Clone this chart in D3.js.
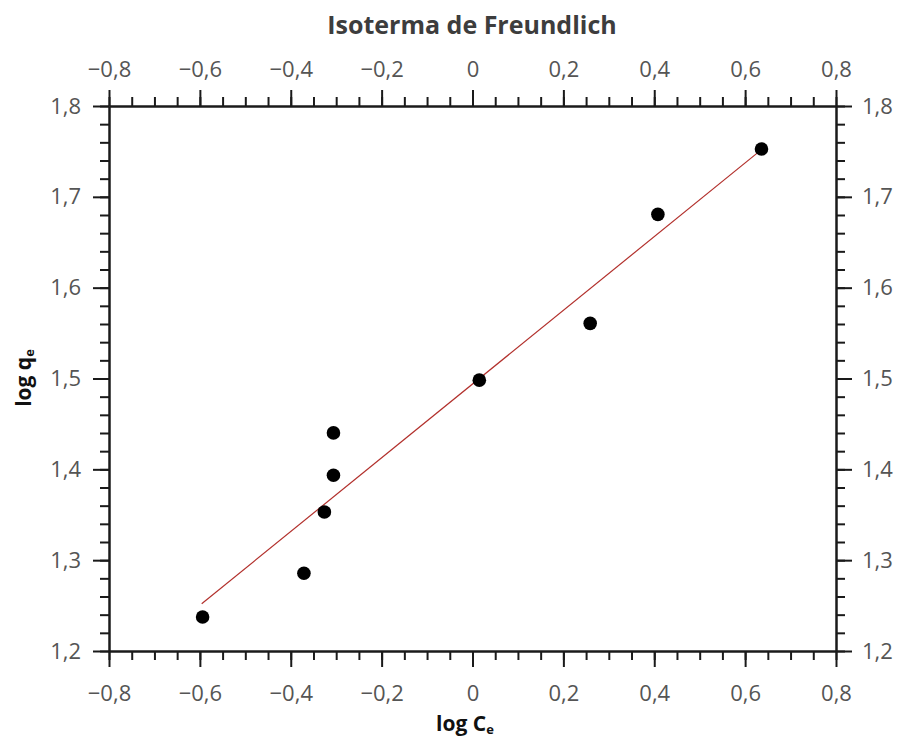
<!DOCTYPE html>
<html>
<head>
<meta charset="utf-8">
<script src="https://cdn.jsdelivr.net/npm/d3@7"></script>
<style>
  body { margin: 0; background: #fff; }
  .domain, .tick line { stroke: #1a1a1a; stroke-width: 2; }
</style>
</head>
<body>
<script>
// data
const logCe = [-0.594, -0.371, -0.326, -0.306, -0.306, 0.015, 0.259, 0.408, 0.636];
const logQe = [1.2375, 1.2856, 1.3531, 1.3935, 1.4401, 1.4982, 1.5607, 1.6807, 1.7527];
const fitX = [-0.596, 0.636];
const fitY = [1.252, 1.752];
const xTicks = [-0.8, -0.6, -0.4, -0.2, 0, 0.2, 0.4, 0.6, 0.8];
const yTicks = [1.2, 1.3, 1.4, 1.5, 1.6, 1.7, 1.8];

const width = 900;
const height = 743;
const margin = { top: 106, right: 64, bottom: 92, left: 109 };

const svg = d3.select("body")
  .append("svg")
  .attr("width", width)
  .attr("height", height);

const xScale = d3.scaleLinear()
  .domain([-0.8, 0.8])
  .range([margin.left, width - margin.right]);

const yScale = d3.scaleLinear()
  .domain([1.2, 1.8])
  .range([height - margin.bottom, margin.top]);

const loc = d3.formatLocale({ decimal: ",", thousands: ".", grouping: [3], currency: ["", ""], minus: "\u2212" });
const fmt = (d) => (Math.abs(d) < 1e-9 ? "0" : loc.format(".1f")(d));

const xMinor = d3.range(-0.8, 0.8001, 0.05).map((d) => +d.toFixed(2));
const yMinor = d3.range(1.2, 1.8001, 0.02).map((d) => +d.toFixed(2));

function addAxis(axisFn, scale, majors, minors, transform, pad) {
  svg.append("g")
    .attr("transform", transform)
    .call(axisFn(scale).tickValues(minors).tickSize(9).tickSizeOuter(0).tickFormat(""));
  svg.append("g")
    .attr("transform", transform)
    .call(axisFn(scale).tickValues(majors).tickSize(16).tickSizeOuter(0).tickPadding(pad).tickFormat(fmt))
    .attr("font-family", "'Open Sans', sans-serif")
    .attr("font-size", 22)
    .call((g) => g.selectAll(".tick text").attr("fill", "#555"));
}

const bottomY = height - margin.bottom;
const rightX = width - margin.right;

addAxis(d3.axisBottom, xScale, xTicks, xMinor, "translate(0," + bottomY + ")", 18);
addAxis(d3.axisTop, xScale, xTicks, xMinor, "translate(0," + margin.top + ")", 13);
addAxis(d3.axisLeft, yScale, yTicks, yMinor, "translate(" + margin.left + ",0)", 12);
addAxis(d3.axisRight, yScale, yTicks, yMinor, "translate(" + rightX + ",0)", 10);

// fit line
const line = d3.line()
  .x((d) => xScale(d[0]))
  .y((d) => yScale(d[1]));

svg.append("path")
  .datum(fitX.map((x, i) => [x, fitY[i]]))
  .attr("d", line)
  .attr("fill", "none")
  .attr("stroke", "#b2302c")
  .attr("stroke-width", 1.2);

// points
svg.selectAll("circle.pt")
  .data(logCe.map((x, i) => [x, logQe[i]]))
  .enter()
  .append("circle")
  .attr("class", "pt")
  .attr("cx", (d) => xScale(d[0]))
  .attr("cy", (d) => yScale(d[1]))
  .attr("r", 6.8)
  .attr("fill", "#000");

// title
svg.append("text")
  .attr("x", 472)
  .attr("y", 34)
  .attr("text-anchor", "middle")
  .attr("font-family", "'Open Sans', sans-serif")
  .attr("font-weight", "bold")
  .attr("font-size", 25)
  .attr("fill", "#3d3d3d")
  .text("Isoterma de Freundlich");

// x label
const xl = svg.append("text")
  .attr("x", 465)
  .attr("y", 731)
  .attr("text-anchor", "middle")
  .attr("font-family", "'Open Sans', sans-serif")
  .attr("font-weight", "bold")
  .attr("font-size", 21)
  .attr("fill", "#111");
xl.append("tspan").text("log C");
xl.append("tspan").attr("font-size", 13).attr("dy", 3).text("e");

// y label
const yl = svg.append("text")
  .attr("transform", "translate(31," + 378 + ") rotate(-90)")
  .attr("text-anchor", "middle")
  .attr("font-family", "'Open Sans', sans-serif")
  .attr("font-weight", "bold")
  .attr("font-size", 21)
  .attr("fill", "#111");
yl.append("tspan").text("log q");
yl.append("tspan").attr("font-size", 13).attr("dy", 3).text("e");
</script>
</body>
</html>
